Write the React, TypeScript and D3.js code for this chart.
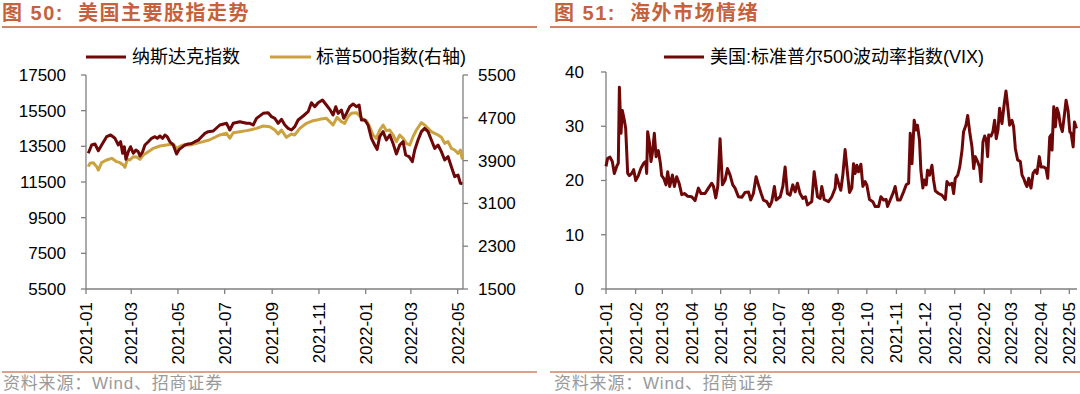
import React from 'react';
import * as d3 from 'd3';

// day offsets from 2021-01-01
const nasdaq: [number, number][] = [
  [3, 13109], [7.4, 13574], [11.7, 13630], [16.1, 13255], [20.4, 13574], [26.9, 14040], [32.2, 14135],
  [37.8, 13950], [42.2, 13574], [45.2, 13760], [47.8, 13109], [50, 13480], [52.1, 12772], [55.2, 13199],
  [58.2, 13480], [61.7, 13109], [65.2, 13294], [68.2, 13199], [70.4, 12958], [73.9, 13199], [76.9, 13574],
  [81.3, 13760], [85.6, 13950], [90, 14040], [93, 13950], [96.5, 14079], [100, 13950], [103, 14135],
  [106, 14040], [109.5, 13760], [113.9, 13574], [118.2, 13070], [121.7, 13330], [124.7, 13430],
  [129.1, 13574], [133.4, 13630], [137.8, 13660], [142.1, 13760], [146.5, 13850], [150.8, 14040],
  [155.2, 14227], [159.5, 14320], [166, 14360], [174.7, 14696], [183.4, 14790], [187.7, 14416],
  [192.1, 14790], [200.8, 14882], [209.5, 14790], [213.8, 14790], [218.2, 14696], [222.5, 15070],
  [231.2, 15350], [237.7, 15388], [242.1, 15163], [246.4, 15070], [250.8, 14790], [255.1, 15014],
  [259.5, 14696], [263.8, 14509], [268.1, 14416], [272.5, 14603], [276.8, 14976], [283.4, 15201],
  [289.9, 15444], [294.2, 15948], [298.6, 15724], [302.9, 15948], [308.6, 16098], [313.7, 15818],
  [318.1, 15575], [322.4, 15257], [325.9, 15724], [329, 15350], [333.3, 15537], [336.4, 15070],
  [339.9, 15350], [344.2, 15724], [348.6, 15874], [352.9, 15724], [356.4, 15818], [359.4, 14976],
  [363.8, 14976], [368.1, 14696], [372.5, 13949], [376.8, 13574], [379.9, 13331], [383.3, 14042],
  [387.7, 14322], [392, 13855], [396.4, 14135], [400.7, 13668], [405.1, 13070], [409.4, 13574],
  [413.8, 13762], [417.2, 13014], [421.6, 12920], [425.9, 12640], [429, 13294], [433.3, 13855],
  [437.7, 14322], [442, 14509], [446.4, 14322], [450.7, 13855], [455.1, 13388], [459.4, 13574],
  [463.8, 13201], [468.1, 12733], [472.5, 12920], [476.8, 12360], [481.2, 11799], [485.5, 11892],
  [488.6, 11425], [491.2, 11400],
];

const spx: [number, number][] = [
  [3, 3787], [5.2, 3849], [9.6, 3861], [13.9, 3787], [16.1, 3724], [20.4, 3861], [26.9, 3911],
  [33.5, 3943], [40, 3880], [44.3, 3861], [48.7, 3818], [50.8, 3775], [53.9, 3924], [57.4, 3911],
  [61.7, 3974], [66.1, 3968], [70.4, 3924], [74.8, 4005], [81.3, 4067], [87.8, 4130], [96.5, 4173],
  [105.2, 4192], [113.9, 4210], [118.2, 4130], [121.7, 4160], [126.9, 4192], [135.6, 4192],
  [144.3, 4223], [153, 4254], [160.8, 4285], [174.7, 4379], [183.4, 4410], [187.7, 4317],
  [192.1, 4422], [200.8, 4441], [209.5, 4460], [213.8, 4472], [222.5, 4503], [231.2, 4547],
  [239.9, 4534], [246.4, 4472], [250.8, 4397], [255.1, 4472], [261.6, 4335], [268.1, 4397],
  [272.5, 4379], [279, 4503], [287.7, 4597], [296.4, 4646], [305.1, 4671], [313.7, 4690],
  [318.1, 4628], [322.4, 4565], [327.6, 4709], [333.3, 4628], [337.6, 4597], [342, 4721],
  [346.3, 4783], [352.9, 4796], [357.2, 4734], [361.6, 4671], [365.9, 4646], [370.3, 4534],
  [374.6, 4379], [378.9, 4316], [383.3, 4472], [387.7, 4565], [392, 4460], [396.4, 4472],
  [400.7, 4379], [405.1, 4254], [409.4, 4379], [413.8, 4316], [418.1, 4223], [422.5, 4192],
  [426.8, 4347], [431.2, 4472], [437.7, 4609], [442, 4565], [446.4, 4503], [450.7, 4441],
  [455.1, 4410], [459.4, 4379], [463.8, 4335], [468.1, 4223], [472.5, 4254], [476.8, 4130],
  [481.2, 4098], [485.5, 4036], [488.6, 4098], [491.2, 3924],
];

const vix: [number, number][] = [
  [0, 22.6], [1.7, 24.1], [4.2, 24.3], [6.6, 23.5], [8.7, 21.3], [11.2, 22.6], [12.9, 23.2], [14, 37.2],
  [15.7, 28.7], [17.1, 32.9], [19.2, 31.1], [20.6, 29.6], [22.7, 21.3], [24.4, 20.9], [26.9, 21.3],
  [29, 22], [31.1, 20], [33.9, 20.9], [36.7, 22.3], [39.5, 23.2], [41.6, 23.5], [42.6, 21.3], [43.6, 29],
  [45.4, 27.1], [47.1, 23.5], [48.5, 25], [50.6, 28.7], [52.4, 24.4], [54.8, 25.5], [56.9, 23.2],
  [58.3, 20.9], [60.4, 20.4], [62.8, 19.2], [64.6, 21.6], [66.7, 18.9], [69.5, 21], [71.6, 18.9],
  [74, 20.7], [76.5, 19.5], [79.3, 17.4], [82.1, 17.6], [85.5, 17.1], [89.7, 17], [93.2, 16.3],
  [96.7, 18.6], [99.5, 17.6], [103.7, 17.6], [107.2, 18.6], [110.7, 19.5], [112.4, 19], [114.9, 16.8],
  [117, 18.9], [119.4, 27.7], [121.9, 19.2], [124.7, 20.1], [127.1, 22.2], [129.9, 21], [132.7, 19.2],
  [135.1, 18.6], [138.6, 17], [142.1, 16.9], [145.6, 17.8], [149.1, 17.9], [151.5, 16.4], [154.3, 17.6],
  [157.1, 20.7], [159.6, 19.2], [162.4, 17.6], [164.8, 16.4], [168.3, 16.1], [171.1, 15.2], [173.5, 16.1],
  [176.3, 18.9], [178.1, 16.4], [182.3, 17], [185.1, 18.9], [187.5, 22.5], [189.9, 17.6], [192.7, 17.3],
  [195.5, 19.2], [198, 17.9], [200.4, 19.5], [203.2, 17.6], [206, 16.7], [208.8, 17], [210.9, 15.5],
  [215.4, 16.1], [217.9, 21.6], [221.4, 17], [224.2, 16.7], [225.9, 18.9], [228.4, 16.5], [232.9, 16.1],
  [236.4, 17], [239.9, 18.6], [241, 21], [243.4, 19.5], [245.8, 18.2], [247.9, 21], [250.3, 25.7],
  [252.8, 21.3], [254.9, 17.8], [257.3, 18.6], [259.1, 23.1], [260.8, 21.3], [262.6, 22.8], [264.3, 21.6],
  [266.8, 23], [268.9, 18.9], [271.3, 19.8], [273, 19.2], [275.8, 16.5], [279.3, 16.1], [281.8, 15.2],
  [285.3, 15.2], [287.7, 17], [290.5, 16.4], [293.3, 16.5], [294.7, 15.2], [297.5, 16.4], [301, 17.9],
  [302.7, 18.9], [305.2, 16.4], [308, 16.4], [311.5, 17.9], [314.3, 19.2], [316.8, 19.5], [318.5, 28.7],
  [320.3, 23.1], [322.6, 31.1], [324.7, 29.3], [326.1, 30.2], [328.2, 27.4], [329.6, 21.9], [331.7, 18.6],
  [333.1, 20.1], [335.2, 19.2], [336.6, 21.9], [338.7, 21], [341.2, 22.8], [342.9, 20.1], [344.7, 18.1],
  [348.2, 17.6], [351.6, 17.3], [355.2, 16.5], [356.9, 19.8], [359.6, 19.2], [362.2, 19.5], [363.9, 17.6],
  [365.6, 20.4], [368.2, 21], [370.3, 22.5], [372.7, 25.6], [374.3, 29], [376.8, 30.2], [378.6, 32],
  [380.7, 29], [383.1, 26.2], [384.9, 22.2], [386.6, 24.4], [389, 23.5], [391.1, 22.5], [392.5, 19.8],
  [394.6, 27.1], [396.4, 28.2], [398.1, 27.4], [399.5, 24.4], [400.6, 28.4], [403.1, 28.2], [405, 29],
  [406.8, 31.1], [408.5, 27.7], [410.3, 29.3], [412, 33.3], [414.5, 30.5], [416.9, 34.2], [418.7, 36.5],
  [420.4, 33.9], [422.5, 30.2], [425, 31.1], [426.7, 29.9], [428.5, 25.9], [430.9, 23.8], [433.7, 23.5],
  [435.5, 21], [437.2, 20.4], [439, 19.5], [440.7, 18.9], [442.5, 20.4], [444.9, 18.6], [447, 21.3],
  [449.4, 21.9], [451.2, 21.3], [453.6, 24.4], [455.4, 22.5], [458.2, 22.5], [460.6, 22.2], [462.4, 20.4],
  [464.5, 28], [465.9, 28.4], [466.9, 25.6], [468.7, 33.6], [470.4, 29.9], [472.2, 33.3], [473.9, 32.3],
  [475.6, 30.2], [477.7, 29], [479.8, 32], [481.6, 34.8], [483.7, 32.9], [485.5, 29], [486.9, 28.7],
  [489, 26.2], [490.4, 30.8], [492.5, 29.6],
];

const leftTickLabels = ['2021-01', '2021-03', '2021-05', '2021-07', '2021-09', '2021-11', '2022-01', '2022-03', '2022-05'];
const rightTickLabels = [
  '2021-01', '2021-02', '2021-03', '2021-04', '2021-05', '2021-06', '2021-07', '2021-08', '2021-09',
  '2021-10', '2021-11', '2021-12', '2022-01', '2022-02', '2022-03', '2022-04', '2022-05',
];
const nasdaqTicks = [5500, 7500, 9500, 11500, 13500, 15500, 17500];
const spxTicks = [1500, 2300, 3100, 3900, 4700, 5500];
const vixTicks = [0, 10, 20, 30, 40];

const FONT = '"Liberation Sans", Arial, "Noto Sans CJK SC", sans-serif';
const RED = '#6E0707';
const GOLD = '#CBA23F';
const AXIS = '#7F7F7F';
const TITLE = '#C5623C';
const RULE = '#CF8466';
const SOURCE = '#9A9A9A';

const start = new Date(2021, 0, 1);
const end = new Date(2022, 4, 8);
const toDate = (d: number) => new Date(start.getTime() + d * 864e5);
const parseMonth = d3.timeParse('%Y-%m');

const App: React.FC = () => {
  // left panel
  const xL = d3.scaleTime().domain([start, end]).range([86, 463]);
  const yN = d3.scaleLinear().domain([5500, 17500]).range([289, 75]);
  const yS = d3.scaleLinear().domain([1500, 5500]).range([289, 75]);
  // right panel
  const xR = d3.scaleTime().domain([start, end]).range([606, 1076]);
  const yV = d3.scaleLinear().domain([0, 40]).range([289, 72]);

  const lineN = d3.line<[number, number]>().x(d => xL(toDate(d[0]))).y(d => yN(d[1]));
  const lineS = d3.line<[number, number]>().x(d => xL(toDate(d[0]))).y(d => yS(d[1]));
  const lineV = d3.line<[number, number]>().x(d => xR(toDate(d[0]))).y(d => yV(d[1]));

  const xAxis = (x: d3.ScaleTime<number, number>, labels: string[], y0: number) =>
    labels.map(l => {
      const px = x(parseMonth(l) as Date);
      return (
        <g key={l}>
          <line x1={px} x2={px} y1={y0} y2={y0 + 5} stroke={AXIS} strokeWidth={1.3} />
          <text transform={`translate(${px},${y0 + 13}) rotate(-90)`} textAnchor="end" dy="0.35em"
            fontSize={17} fill="#000">{l}</text>
        </g>
      );
    });

  return (
    <svg width={1080} height={394} style={{ position: 'absolute', left: 0, top: 0 }} fontFamily={FONT}>
      <rect width={1080} height={394} fill="#fff" />

      {/* titles */}
      <text x={2} y={20} fontSize={20} fontWeight="bold" fill={TITLE} letterSpacing={1.5}
        style={{ whiteSpace: 'pre' }}>图 50:  美国主要股指走势</text>
      <line x1={2} x2={537} y1={27} y2={27} stroke={RULE} strokeWidth={2} />
      <text x={554} y={20} fontSize={20} fontWeight="bold" fill={TITLE} letterSpacing={1.5}
        style={{ whiteSpace: 'pre' }}>图 51:  海外市场情绪</text>
      <line x1={550} x2={1080} y1={27} y2={27} stroke={RULE} strokeWidth={2} />

      {/* legends */}
      <line x1={86} x2={126} y1={57} y2={57} stroke={RED} strokeWidth={3} />
      <text x={132} y={57} dy="0.35em" fontSize={18}>纳斯达克指数</text>
      <line x1={270} x2={311} y1={57} y2={57} stroke={GOLD} strokeWidth={3} />
      <text x={316} y={57} dy="0.35em" fontSize={18}>标普500指数(右轴)</text>
      <line x1={664} x2={704} y1={57} y2={57} stroke={RED} strokeWidth={3} />
      <text x={710} y={57} dy="0.35em" fontSize={18}>美国:标准普尔500波动率指数(VIX)</text>

      {/* left chart axes */}
      <line x1={86} x2={86} y1={75} y2={289} stroke={AXIS} strokeWidth={1.3} />
      <line x1={463} x2={463} y1={75} y2={289} stroke={AXIS} strokeWidth={1.3} />
      <line x1={86} x2={463} y1={289} y2={289} stroke={AXIS} strokeWidth={1.3} />
      {nasdaqTicks.map(t => (
        <g key={t}>
          <line x1={81} x2={86} y1={yN(t)} y2={yN(t)} stroke={AXIS} strokeWidth={1.3} />
          <text x={66} y={yN(t)} dy="0.35em" textAnchor="end" fontSize={17}>{t}</text>
        </g>
      ))}
      {spxTicks.map(t => (
        <g key={t}>
          <line x1={463} x2={468} y1={yS(t)} y2={yS(t)} stroke={AXIS} strokeWidth={1.3} />
          <text x={478} y={yS(t)} dy="0.35em" fontSize={17}>{t}</text>
        </g>
      ))}
      {xAxis(xL, leftTickLabels, 289)}
      <path d={lineS(spx) ?? ''} fill="none" stroke={GOLD} strokeWidth={3} strokeLinejoin="round" />
      <path d={lineN(nasdaq) ?? ''} fill="none" stroke={RED} strokeWidth={3} strokeLinejoin="round" />

      {/* right chart axes */}
      <line x1={606} x2={606} y1={72} y2={289} stroke={AXIS} strokeWidth={1.3} />
      <line x1={606} x2={1077} y1={289} y2={289} stroke={AXIS} strokeWidth={1.3} />
      {vixTicks.map(t => (
        <g key={t}>
          <line x1={601} x2={606} y1={yV(t)} y2={yV(t)} stroke={AXIS} strokeWidth={1.3} />
          <text x={584} y={yV(t)} dy="0.35em" textAnchor="end" fontSize={17}>{t}</text>
        </g>
      ))}
      {xAxis(xR, rightTickLabels, 289)}
      <path d={lineV(vix) ?? ''} fill="none" stroke={RED} strokeWidth={3} strokeLinejoin="round" />

      {/* sources */}
      <line x1={2} x2={537} y1={372} y2={372} stroke={RULE} strokeWidth={1.5} />
      <text x={3} y={389} fontSize={17} fill={SOURCE} letterSpacing={0.8}>资料来源：Wind、招商证券</text>
      <line x1={550} x2={1080} y1={372} y2={372} stroke={RULE} strokeWidth={1.5} />
      <text x={554} y={389} fontSize={17} fill={SOURCE} letterSpacing={0.8}>资料来源：Wind、招商证券</text>
    </svg>
  );
};

export default App;
